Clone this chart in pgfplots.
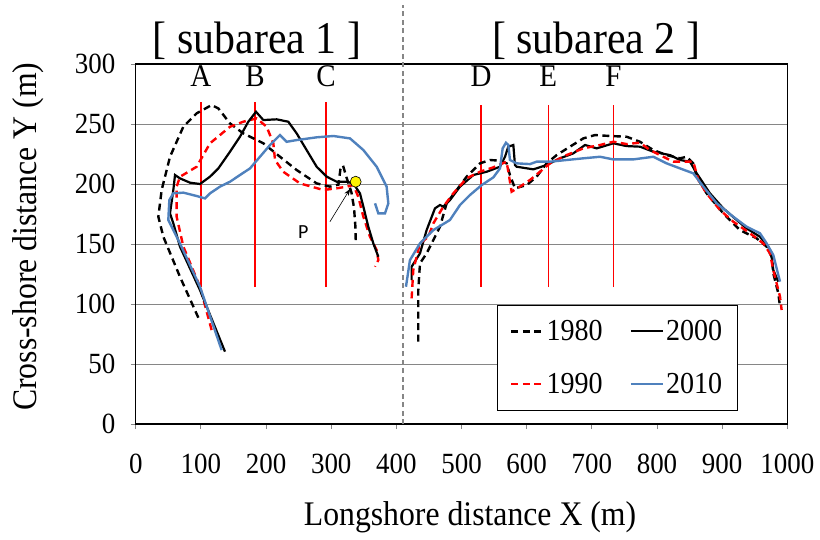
\documentclass[border=0pt]{standalone}
\usepackage{fontspec}
\setmainfont{Liberation Serif}[FakeStretch=0.92]
\newfontfamily\calibri{Carlito}
\usepackage{pgfplots}
\pgfplotsset{compat=1.18}
\usetikzlibrary{arrows.meta}
\definecolor{blu}{RGB}{79,129,189}
\definecolor{gridgray}{RGB}{134,134,134}
\tikzset{
  s1980/.style={black, line width=2.4pt, dash pattern=on 7pt off 4.5pt},
  s1990/.style={red, line width=2.4pt, dash pattern=on 7pt off 4.5pt},
  s2000/.style={black, line width=2.2pt},
  s2010/.style={blu, line width=2.4pt},
  profile/.style={red, line width=1.3pt},
  lett/.style={font=\fontsize{31.5}{31.5}\selectfont, anchor=base}
}
\begin{document}
\begin{tikzpicture}
\useasboundingbox (-135.8pt,-115pt) rectangle (684.2pt,424pt);
\begin{axis}[
  scale only axis, width=651.5pt, height=360pt,
  xmin=0, xmax=1000, ymin=0, ymax=300,
  xtick={0,100,...,1000}, ytick={0,50,...,300},
  ymajorgrids, grid style={gridgray, line width=1pt},
  tick align=outside, tick pos=left, major tick length=5pt,
  tick style={gridgray, line width=1pt},
  axis line style={black, line width=1.2pt},
  ticklabel style={font=\fontsize{29.3}{29.3}\selectfont},
  yticklabel style={xshift=-12pt},
  xticklabel style={yshift=-21pt},
  /pgf/number format/assume math mode=true,
  /pgf/number format/1000 sep={},
  clip=false,
  xlabel={Longshore distance X (m)},
  ylabel={Cross-shore distance Y (m)},
  xlabel style={at={(axis description cs:0.513,0)}, anchor=center, yshift=-93pt, font=\fontsize{34.5}{34.5}\selectfont},
  ylabel style={at={(axis description cs:0,0.52)}, anchor=center, rotate=0, yshift=107.8pt, font=\fontsize{34.5}{34.5}\selectfont},
  legend columns=2,
  legend cell align=left,
  legend image code/.code={\draw[#1] (0pt,0pt) -- (32pt,0pt);},
  legend style={at={(rel axis cs:0.554,0.3306)}, anchor=north west, draw=black, line width=1pt,
    font=\fontsize{30.5}{30.5}\selectfont, inner xsep=13pt, inner ysep=13pt,
    row sep=27pt, /tikz/every even column/.append style={column sep=25pt}},
]
% subarea divider
\draw[gridgray, line width=1.6pt, dash pattern=on 5pt off 3.5pt] (axis cs:410,0) -- (axis cs:410,349);
% profile lines
\addplot[profile, forget plot] coordinates {(100,114) (100,268)};
\addplot[profile, forget plot] coordinates {(183,114) (183,268)};
\addplot[profile, forget plot] coordinates {(292,114) (292,268)};
\addplot[profile, forget plot] coordinates {(530,114) (530,266)};
\addplot[profile, forget plot] coordinates {(633,114) (633,266)};
\addplot[profile, forget plot] coordinates {(733,114) (733,266)};
% ---- subarea 1 ----
\addplot[s1980, forget plot] coordinates {
(96,88.6) (67.8,122.7) (42.3,156) (34.6,172.7) (39.7,195) (52.5,222.7) (73,247.8) (93.4,258.9) (116.4,265.8) (126.7,263) (144.6,250.5) (165,242.2) (195.8,233.9) (221.3,222.7) (247,211.6) (277.6,200.5) (298,197.8) (311,199.5) (314,212) (318,215.5) (323.7,205) (331,193) (335,180) (337,165) (337.7,150.5)};
\addplot[s1990, forget plot] coordinates {
(116.4,78.3) (98.5,114.4) (73,147.8) (62.7,172.7) (62.7,197.8) (67.8,206) (93.4,214.4) (113.9,233.9) (144.6,247.7) (165,251.9) (185.5,254.7) (200.9,247.7) (211.1,233.9) (213.7,220) (226.4,210.2) (252,200.5) (287.9,195) (308.3,196.4) (323.7,197.8) (333.9,199.1) (341.5,189.4) (349.3,172.7) (359.5,156) (369.7,145) (372.3,136.6) (367.2,131.1)};
\addplot[s2000, forget plot] coordinates {
(136.9,60.3) (98.5,111.6) (67.8,147.8) (57.6,167.2) (52.5,175.5) (57.6,195) (60.2,207.5) (67.8,204.7) (83.2,201.1) (98.5,200) (113.9,206.1) (126.7,213) (144.6,226.9) (159.9,239.4) (172.7,251.9) (184.5,260.2) (195.8,253.3) (216.2,253.9) (234.1,251.9) (246.9,242.2) (262.2,228.3) (277.6,214.4) (293,206.1) (308.3,201.9) (323.7,201.9) (333.9,200.5) (344.1,192.2) (349.3,181.1) (356.9,164.4) (364.6,150.5) (372.3,139.4)};
\addplot[s2010, forget plot] coordinates {
(131.8,61.6) (98.5,114.4) (67.8,150.5) (57.6,161.6) (49.9,170) (51.5,186.6) (57.6,192.2) (73,192.8) (93.4,190) (106.2,188) (113.9,192.2) (129.2,197.8) (144.6,201.9) (159.9,207.5) (175.3,213) (190.6,222.7) (206,232.5) (221.3,240.8) (231.6,235.2) (246.9,236.6) (277.6,238.9) (303.2,240) (328.8,238) (349.3,228.3) (369.7,214.4) (385,197.8) (387.6,183.9) (382.5,175.5) (372.3,175.5) (367.2,183.9)};
% ---- subarea 2 ----
\addplot[s1980, forget plot] coordinates {
(433.6,68.6) (433.6,111.6) (436.2,133.9) (446.4,142.2) (456.7,153.3) (466.9,164.4) (477.1,183.9) (492.5,195) (507.8,206.1) (528.3,217.2) (543.6,220) (559,219.4) (569.2,217.2) (574.3,207.5) (582,196.4) (599.9,199.1) (615.3,206.1) (630.6,217.2) (646,224.1) (666.4,231.1) (686.9,238) (704.8,240.8) (727.8,240) (753.4,239.4) (773.9,235.2) (794.4,228.3) (814.8,224.1) (835.3,221.4) (845.5,222.7) (855.7,217.2) (860.9,206.1) (876.2,192.2) (901.8,175.5) (927.4,161.6) (953,154.7) (968.3,147.8) (976,139.4) (978.5,125.5) (986.2,108.9) (988.8,97.8)};
\addplot[s2000, forget plot] coordinates {
(423.4,120) (423.4,131.1) (436.2,142.2) (446.4,161.6) (459.2,179.7) (466.9,182.5) (472,181.1) (482.2,186.6) (497.6,197.8) (518.1,207.5) (538.5,210.2) (559,214.4) (566.7,222.7) (571.8,231.1) (579.5,232.5) (582,215.8) (584.6,214.4) (610.2,212.2) (630.6,215.8) (651.1,221.4) (671.5,225.5) (689.5,232.5) (707.4,229.7) (733,233.9) (753.4,231.6) (773.9,231.1) (794.4,226.9) (819.9,224.1) (835.3,220) (850.6,218.6) (860.9,208.9) (881.3,192.2) (901.8,179.7) (922.3,170) (937.6,163) (958.1,156) (970.8,147.8) (976,139.4) (978.5,128.3) (986.2,118.6)};
\addplot[s1990, forget plot] coordinates {
(423.4,104.7) (425.9,128.3) (436.2,150.5) (449,156) (456.7,167.2) (472,181.1) (487.4,192.2) (507.8,204.7) (528.3,210.2) (548.8,213.9) (569.2,218.6) (576.9,193.6) (589.7,197.8) (605,203.3) (620.4,210.2) (635.7,217.2) (661.3,224.1) (686.9,229.7) (712.5,232.5) (733,235.2) (753.4,233.3) (773.9,234.4) (789.2,228.3) (809.7,222.7) (825.1,218.6) (840.4,218.6) (855.7,218.6) (863.4,203.3) (876.2,192.2) (896.7,178.3) (917.1,168.6) (942.7,158.9) (963.2,150.5) (973.4,142.2) (978.5,128.3) (988.8,106.1) (991.3,95)};
\addplot[s2010, forget plot] coordinates {
(414.7,114.4) (420.8,136.6) (436.2,150.5) (456.7,161.6) (482.2,170) (497.6,182.5) (512.9,190.8) (530.9,199.1) (548.8,205.5) (559,213) (563.1,229.7) (568.2,234.4) (571.8,232.5) (574.3,220) (584.6,217.2) (605,216.6) (615.3,218.6) (635.7,218.6) (661.3,220) (686.9,221.4) (712.5,222.7) (733,220.5) (763.6,220.5) (794.4,222.7) (814.8,217.2) (835.3,213) (855.7,208.9) (871.1,197.8) (891.6,183.9) (917.1,172.7) (937.6,164.4) (958.1,158.9) (968.3,150.5) (978.5,140.8) (988.8,118.6)};
% point P
\addplot[only marks, mark=*, mark size=5.5pt, mark options={fill=yellow, draw=black, line width=0.6pt}, forget plot] coordinates {(337.5,201.9)};
\draw[-{Stealth[length=7pt,width=5pt]}, black, line width=0.6pt] (axis cs:298,168.6) -- (axis cs:329,196);
\node[font=\calibri\fontsize{20}{20}\selectfont] at (axis cs:257,160.2) {P};
% profile letters
\node[lett] at (axis cs:100,281) {A};
\node[lett] at (axis cs:183,281) {B};
\node[lett] at (axis cs:292,281) {C};
\node[lett] at (axis cs:530,281) {D};
\node[lett] at (axis cs:633,281) {E};
\node[lett] at (axis cs:733,281) {F};
% subarea titles
\node[font=\fontsize{45.5}{45.5}\selectfont, anchor=base] at (axis cs:186,309) {[ subarea 1 ]};
\node[font=\fontsize{45.5}{45.5}\selectfont, anchor=base] at (axis cs:706.5,309) {[ subarea 2 ]};
% legend
\addlegendimage{s1980}\addlegendentry{1980}
\addlegendimage{s2000}\addlegendentry{2000}
\addlegendimage{s1990}\addlegendentry{1990}
\addlegendimage{s2010}\addlegendentry{2010}
\end{axis}
\end{tikzpicture}
\end{document}
